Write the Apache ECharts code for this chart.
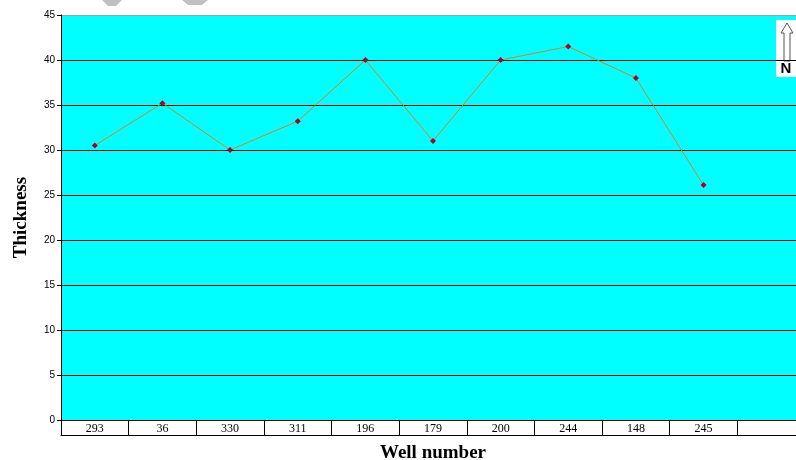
<!DOCTYPE html>
<html>
<head>
<meta charset="utf-8">
<script src="https://cdn.jsdelivr.net/npm/echarts@6/dist/echarts.min.js"></script>
<style>html,body{margin:0;padding:0;background:#fff}#c{width:796px;height:460px}</style>
</head>
<body>
<div id="c"></div>
<script>
const wells = ['293','36','330','311','196','179','200','244','148','245',''];
const thickness = [30.5, 35.2, 30.0, 33.2, 40.0, 31.0, 40.0, 41.5, 38.0, 26.1, null];
const yMin = 0, yMax = 45, yStep = 5;

const chart = echarts.init(document.getElementById('c'), null, {renderer: 'canvas'});
const gridColors = ['#000','#000','#000','#000','#000','#000','#000','#000','#000','#a0a0a0'];
chart.setOption({
  animation: false,
  backgroundColor: '#fff',
  grid: {left: 61, top: 15, right: -9, bottom: 40, show: true, backgroundColor: '#00ffff', borderWidth: 0, containLabel: false, outerBoundsMode: 'none'},
  xAxis: [{
    type: 'category', data: wells, boundaryGap: true,
    axisLine: {show: true, lineStyle: {color: '#000', width: 1}},
    axisTick: {show: true, length: 15, interval: 0, inside: false, lineStyle: {color: '#000', width: 1}},
    axisLabel: {interval: 0, color: '#000', fontFamily: 'Liberation Serif', fontSize: 12, margin: 3},
    name: 'Well number', nameLocation: 'middle', nameGap: 24,
    nameTextStyle: {fontFamily: 'Liberation Serif', fontWeight: 'bold', fontSize: 19, color: '#000'}
  }, {
    type: 'category', data: wells, position: 'bottom', offset: 15, boundaryGap: true,
    axisLine: {show: true, lineStyle: {color: '#000', width: 1}},
    axisTick: {show: false}, axisLabel: {show: false}
  }],
  yAxis: {
    type: 'value', min: yMin, max: yMax, interval: yStep,
    axisLine: {show: true, lineStyle: {color: '#000', width: 1}},
    axisTick: {show: true, length: 4, lineStyle: {color: '#000'}},
    axisLabel: {color: '#000', fontFamily: 'Liberation Sans', fontSize: 10, margin: 6},
    splitLine: {show: true, lineStyle: {color: gridColors, width: 1}},
    name: 'Thickness', nameLocation: 'middle', nameGap: 30,
    nameTextStyle: {fontFamily: 'Liberation Serif', fontWeight: 'bold', fontSize: 19, color: '#000'}
  },
  series: [{
    type: 'line', data: thickness, xAxisIndex: 0,
    symbol: 'diamond', symbolSize: 6, showAllSymbol: true,
    lineStyle: {color: '#e0801a', width: 1},
    itemStyle: {color: '#aa0030'}
  }],
  graphic: [
    {type: 'rect', shape: {x: 776, y: 20, width: 20, height: 57}, style: {fill: '#fff'}},
    {type: 'polygon', shape: {points: [[787,23],[793,33],[790,33],[790,61],[784,61],[784,33],[781,33]]}, style: {fill: '#fff', stroke: '#555', lineWidth: 1}},
    {type: 'text', x: 786, y: 69, style: {text: 'N', font: 'bold 15px "Liberation Sans"', fill: '#000', align: 'center', verticalAlign: 'middle'}},
    {type: 'polygon', shape: {points: [[102,0],[122,0],[116,6],[108,6]]}, style: {fill: '#c0c0c0'}},
    {type: 'polygon', shape: {points: [[182,0],[208,0],[202,5],[188,5]]}, style: {fill: '#c0c0c0'}}
  ]
});
</script>
</body>
</html>
